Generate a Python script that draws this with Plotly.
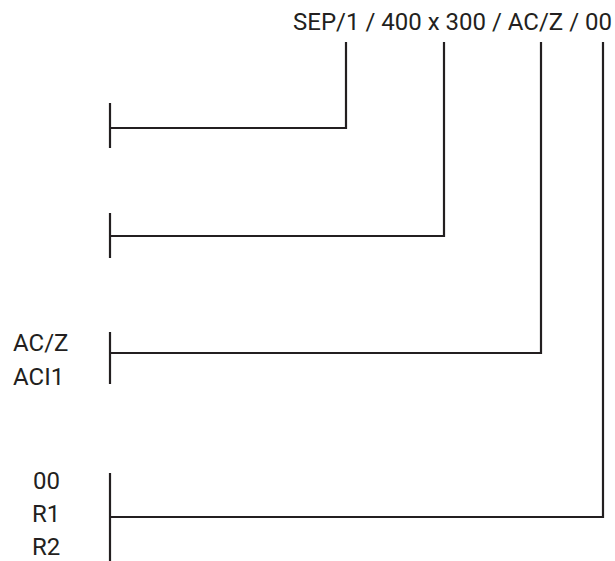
import plotly.graph_objects as go

# Diagram content
header_text = "SEP/1 / 400 x 300 / AC/Z / 00"
connector_x = [346, 444, 541, 603]          # where each connector drops from the header
row_y = [128, 236, 353, 517]                 # horizontal line level of each row
bar_top = [103, 213, 332, 473]
bar_bottom = [148, 258, 384, 561]
bar_x = 110
header_line_top = 42

side_labels = [["AC/Z", "ACI1"], ["00", "R1", "R2"]]

W, H = 615, 561
ink = "#231f20"
font = dict(family="Roboto, Liberation Sans, Arial", size=24, color=ink)

xs, ys = [], []
for cx, ry, bt, bb in zip(connector_x, row_y, bar_top, bar_bottom):
    xs += [bar_x, bar_x, None]
    ys += [bt, bb, None]
    xs += [bar_x, cx, cx, None]
    ys += [ry, ry, header_line_top, None]

fig = go.Figure()
fig.add_trace(go.Scatter(x=xs, y=ys, mode="lines",
                         line=dict(color=ink, width=2.2),
                         hoverinfo="skip", showlegend=False))

annotations = [dict(x=614, y=22, xref="x", yref="y", text=header_text,
                    showarrow=False, xanchor="right", yanchor="middle", font=font)]

for i, t in enumerate(side_labels[0]):
    annotations.append(dict(x=11, y=343 + 34 * i, xref="x", yref="y", text=t,
                            showarrow=False, xanchor="left", yanchor="middle", font=font))
for i, t in enumerate(side_labels[1]):
    annotations.append(dict(x=46, y=481 + 33 * i, xref="x", yref="y", text=t,
                            showarrow=False, xanchor="center", yanchor="middle",
                            borderpad=0, font=font))

fig.update_layout(
    width=W, height=H,
    margin=dict(l=0, r=0, t=0, b=0),
    paper_bgcolor="white", plot_bgcolor="white",
    xaxis=dict(range=[0, W], visible=False, fixedrange=True),
    yaxis=dict(range=[H, 0], visible=False, fixedrange=True),
    annotations=annotations,
)
fig.write_html("out.html", config={"displayModeBar": False},
               post_script="document.body.style.margin='0';document.body.style.overflow='hidden';")
